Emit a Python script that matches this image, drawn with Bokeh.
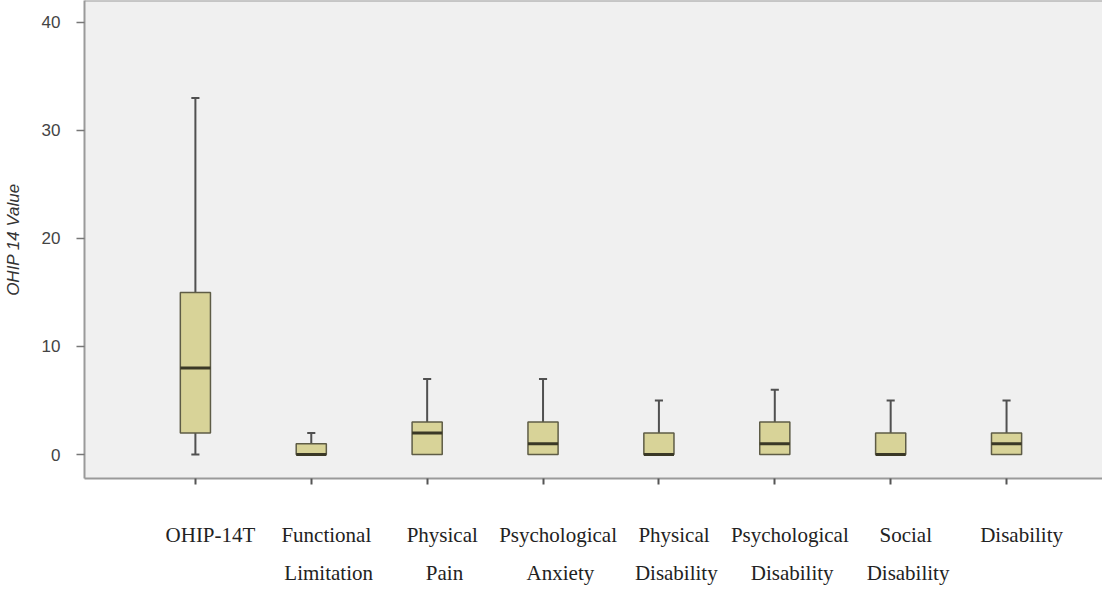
import numpy as np
from bokeh.plotting import figure
from bokeh.models import Range1d, LinearAxis, FixedTicker, Span
from bokeh.embed import file_html
from bokeh.resources import INLINE

# ---- data ----
categories = ["OHIP-14T", "Functional Limitation", "Physical Pain",
              "Psychological Anxiety", "Physical Disability",
              "Psychological Disability", "Social Disability", "Disability"]
label_line1 = ["OHIP-14T", "Functional", "Physical", "Psychological",
               "Physical", "Psychological", "Social", "Disability"]
label_line2 = ["", "Limitation", "Pain", "Anxiety",
               "Disability", "Disability", "Disability", ""]
whisker_low = [0, 0, 0, 0, 0, 0, 0, 0]
q1 = [2, 0, 0, 0, 0, 0, 0, 0]
median = [8, 0, 2, 1, 0, 1, 0, 1]
q3 = [15, 1, 3, 3, 2, 3, 2, 2]
whisker_high = [33, 2, 7, 7, 5, 6, 5, 5]
y_ticks = [0, 10, 20, 30, 40]
y_title = "OHIP 14 Value"

# ---- layout / style ----
xs = list(range(len(categories)))
box_w = 0.26
cap_w = 0.035
lab1_shift = 0.13
lab2_shift = 0.15

p = figure(width=1102, height=587,
           x_range=Range1d(-0.957, 7.828), y_range=Range1d(-2.22, 42.03),
           x_axis_type=None, y_axis_type=None,
           output_backend="svg", toolbar_location=None,
           min_border_left=83, min_border_right=0, min_border_top=0,
           min_border_bottom=108)
p.background_fill_color = "#F0F0F0"
p.border_fill_color = "white"
p.outline_line_color = None

# y axis
yaxis = LinearAxis(ticker=FixedTicker(ticks=y_ticks, minor_ticks=[]))
yaxis.axis_line_color = "#9a9a9a"
yaxis.axis_line_width = 2
yaxis.major_tick_out = 8
yaxis.major_tick_in = 0
yaxis.major_tick_line_color = "#777777"
yaxis.major_tick_line_width = 1.5
yaxis.minor_tick_out = 0
yaxis.minor_tick_in = 0
yaxis.major_label_standoff = 16
yaxis.major_label_text_font = "Liberation Sans"
yaxis.major_label_text_font_size = "17px"
yaxis.major_label_text_color = "#444444"
yaxis.axis_label = y_title
yaxis.axis_label_standoff = 16
yaxis.axis_label_text_font = "Liberation Sans"
yaxis.axis_label_text_font_style = "italic"
yaxis.axis_label_text_font_size = "17px"
yaxis.axis_label_text_color = "#333333"
p.add_layout(yaxis, "left")

# x axis (line + ticks)
ax0 = LinearAxis(ticker=FixedTicker(ticks=xs, minor_ticks=[]),
                 major_label_overrides={x: "" for x in xs})
ax0.axis_line_color = "#9a9a9a"
ax0.axis_line_width = 2
ax0.major_tick_out = 6
ax0.major_tick_in = 0
ax0.major_tick_line_color = "#555555"
ax0.major_tick_line_width = 2
ax0.minor_tick_out = 0
ax0.major_label_standoff = 0
ax0.major_label_text_font_size = "1px"
p.add_layout(ax0, "below")

def label_axis(lines, shift, standoff):
    ticks = [x + shift for x in xs]
    ax = LinearAxis(ticker=FixedTicker(ticks=ticks, minor_ticks=[]),
                    major_label_overrides={t: s for t, s in zip(ticks, lines)})
    ax.axis_line_color = None
    ax.major_tick_line_color = None
    ax.minor_tick_line_color = None
    ax.major_tick_out = 0
    ax.major_tick_in = 0
    ax.minor_tick_out = 0
    ax.major_label_standoff = standoff
    ax.major_label_text_font = "Liberation Serif"
    ax.major_label_text_font_size = "21px"
    ax.major_label_text_color = "#222222"
    return ax

p.add_layout(label_axis(label_line1, lab1_shift, 38), "below")
p.add_layout(label_axis(label_line2, lab2_shift, 11), "below")

# top border
p.add_layout(Span(location=42.03, dimension="width",
                  line_color="#9a9a9a", line_width=2))

# whiskers
p.segment(xs, q3, xs, whisker_high, line_color="#505050", line_width=2)
p.segment(xs, whisker_low, xs, q1, line_color="#505050", line_width=2)
# caps
p.segment([x - cap_w for x in xs], whisker_high, [x + cap_w for x in xs],
          whisker_high, line_color="#505050", line_width=2)
lo_x = [x for x, lo, a in zip(xs, whisker_low, q1) if lo < a]
lo_y = [lo for lo, a in zip(whisker_low, q1) if lo < a]
p.segment([x - cap_w for x in lo_x], lo_y, [x + cap_w for x in lo_x], lo_y,
          line_color="#505050", line_width=2)

# boxes
p.vbar(x=xs, width=box_w, bottom=q1, top=q3, fill_color="#D8D398",
       line_color="#5e5c46", line_width=1.5)
# medians
p.segment([x - box_w / 2 for x in xs], median, [x + box_w / 2 for x in xs],
          median, line_color="#3a3826", line_width=3)

open("out.html", "w").write(file_html(p, INLINE))
